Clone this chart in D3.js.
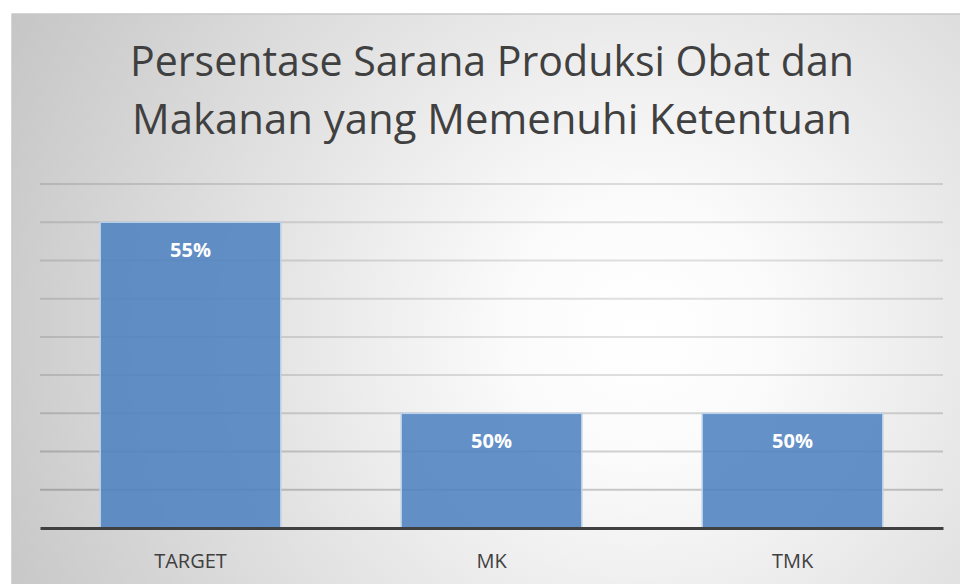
<!DOCTYPE html>
<html>
<head>
<meta charset="utf-8">
<script src="https://cdn.jsdelivr.net/npm/d3@7"></script>
<style>
  html, body { margin: 0; padding: 0; background: #fff; }
  svg { display: block; font-family: "Open Sans", "Noto Sans", sans-serif; }
</style>
</head>
<body>
<svg id="chart" width="960" height="584"></svg>
<script>
const categories = ["TARGET", "MK", "TMK"];
const values = [55, 50, 50];
const valueLabels = ["55%", "50%", "50%"];
const titleLines = ["Persentase Sarana Produksi Obat dan", "Makanan yang Memenuhi Ketentuan"];
const yDomain = [47, 56];

const svg = d3.select("#chart");
const width = 960;
const height = 584;

// chart frame; right and bottom border sit just past the window edge
const frame = { left: 12, top: 14, right: 961, bottom: 585 };
const margin = { top: 184, right: 17, bottom: 56, left: 40 };
const innerWidth = width - margin.left - margin.right;
const innerHeight = height - margin.top - margin.bottom;

const defs = svg.append("defs");
const bg = defs.append("radialGradient")
  .attr("id", "bg")
  .attr("gradientUnits", "userSpaceOnUse")
  .attr("cx", 640).attr("cy", 330).attr("r", 720);
bg.append("stop").attr("offset", "0%").attr("stop-color", "#ffffff");
bg.append("stop").attr("offset", "18%").attr("stop-color", "#fbfbfb");
bg.append("stop").attr("offset", "100%").attr("stop-color", "#c4c4c4");

// gridlines get darker towards the bottom
const gridGrad = defs.append("linearGradient")
  .attr("id", "gridGrad")
  .attr("gradientUnits", "userSpaceOnUse")
  .attr("x1", 0).attr("y1", margin.top).attr("x2", 0).attr("y2", margin.top + innerHeight);
gridGrad.append("stop").attr("offset", "0%").attr("stop-color", "#000").attr("stop-opacity", 0.12);
gridGrad.append("stop").attr("offset", "100%").attr("stop-color", "#000").attr("stop-opacity", 0.34);

svg.append("rect")
  .attr("x", frame.left).attr("y", frame.top)
  .attr("width", frame.right - frame.left).attr("height", frame.bottom - frame.top)
  .attr("fill", "url(#bg)")
  .attr("stroke", "#c8c8c8")
  .attr("stroke-width", 1.5);

// title, font size fitted to the width of the original line
const title = svg.append("g").attr("fill", "#404040").attr("text-anchor", "middle");
titleLines.forEach((line, i) => {
  const t = title.append("text")
    .attr("x", 492)
    .attr("y", 76 + i * 58)
    .attr("font-size", 40)
    .text(line);
  const w = t.node().getComputedTextLength();
  const target = i === 0 ? 724 : 720;
  t.attr("font-size", Math.min(42, 40 * target / w));
});

const chart = svg.append("g").attr("transform", `translate(${margin.left},${margin.top})`);

const x = d3.scaleBand().domain(categories).range([0, innerWidth]).paddingInner(0.4).paddingOuter(0.2);
const y = d3.scaleLinear().domain(yDomain).range([innerHeight, 0]);

// gridlines
chart.append("g")
  .selectAll("line")
  .data(y.ticks(9).filter(t => t > yDomain[0]))
  .join("line")
  .attr("x1", 0).attr("x2", innerWidth)
  .attr("y1", d => y(d)).attr("y2", d => y(d))
  .attr("stroke", "url(#gridGrad)")
  .attr("stroke-width", 2);

// bars
chart.append("g")
  .selectAll("rect")
  .data(values)
  .join("rect")
  .attr("x", (d, i) => x(categories[i]))
  .attr("y", d => y(d))
  .attr("width", x.bandwidth())
  .attr("height", d => y(yDomain[0]) - y(d))
  .attr("fill", "#4f83c0")
  .attr("fill-opacity", 0.88)
  .attr("stroke", "#bcd0e8")
  .attr("stroke-width", 1.5);

// value labels
chart.append("g")
  .selectAll("text")
  .data(values)
  .join("text")
  .attr("x", (d, i) => x(categories[i]) + x.bandwidth() / 2)
  .attr("y", d => y(d) + 35)
  .attr("text-anchor", "middle")
  .attr("fill", "#ffffff")
  .attr("font-weight", "bold")
  .attr("font-size", 20)
  .text((d, i) => valueLabels[i]);

// x axis
const xAxis = chart.append("g")
  .attr("transform", `translate(0,${innerHeight})`)
  .call(d3.axisBottom(x).tickSize(0).tickPadding(26));
xAxis.select(".domain").attr("stroke", "#404040").attr("stroke-width", 3);
xAxis.selectAll("text")
  .attr("fill", "#404040")
  .attr("font-size", 20)
  .attr("font-family", "\"Open Sans\", \"Noto Sans\", sans-serif");
</script>
</body>
</html>
